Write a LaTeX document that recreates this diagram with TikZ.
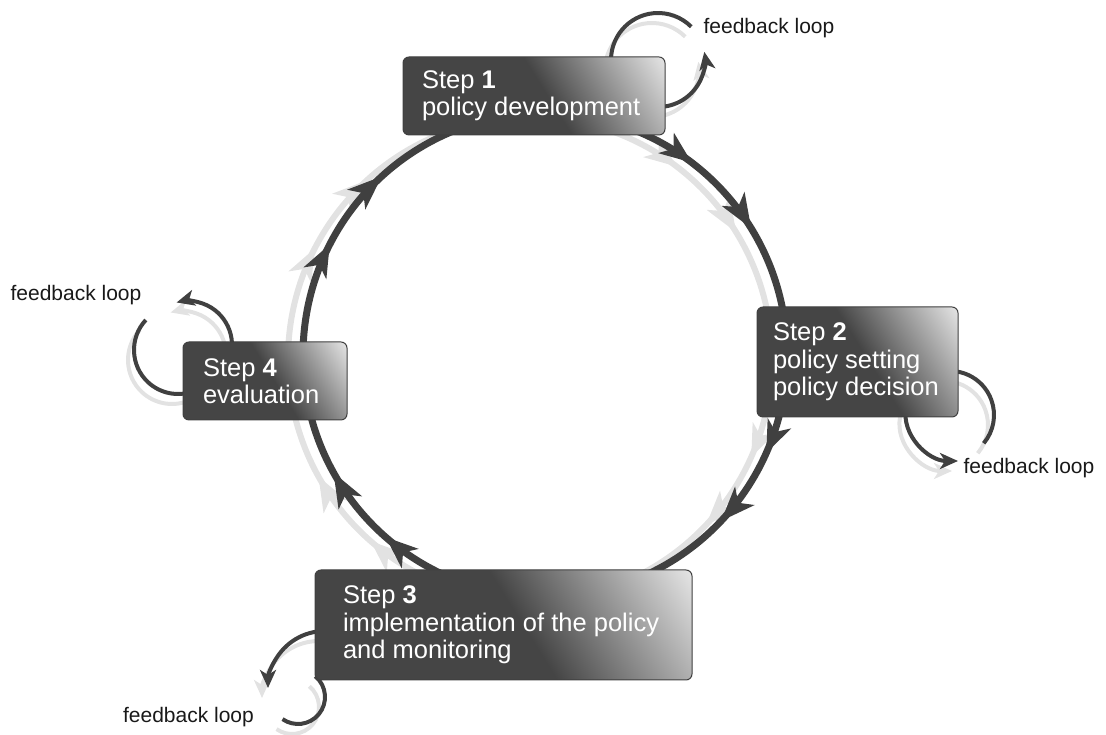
\documentclass[tikz,border=0pt]{standalone}
\usepackage{fontspec}
\setmainfont{Liberation Sans}
\usetikzlibrary{arrows.meta,calc,decorations.markings}
\definecolor{boxdark}{HTML}{454545}
\definecolor{boxlight}{HTML}{F2F2F2}
\definecolor{linegray}{HTML}{404040}
\definecolor{ghostgray}{HTML}{E2E2E2}
\pgfdeclarehorizontalshading{boxshade}{100bp}{color(0bp)=(boxdark); color(53bp)=(boxdark); color(87bp)=(boxlight); color(100bp)=(boxlight)}
\pgfdeclarelayer{back}
\pgfsetlayers{back,main}
\tikzstyle{block} = [draw=black!75, line width=1pt, rounded corners=6pt, shade, shading=boxshade, shading angle=32, text=white, align=left, inner ysep=0pt, font=\fontsize{25.5}{27.5}\selectfont, execute at begin node={\spaceskip=0.278em\relax}]
\tikzstyle{note} = [inner sep=0pt, text=black!90, font=\fontsize{21}{25}\selectfont]
\tikzset{ring/.style 2 args={line width=7pt, color=linegray, postaction={decorate}, decoration={markings, mark=at position #1 with {\arrow{Stealth[length=32pt,width=25pt,inset=9pt]}}, mark=at position #2 with {\arrow{Stealth[length=34pt,width=26pt,inset=9pt]}}}},
 ringghost/.style 2 args={ring={#1}{#2}, color=ghostgray, line width=6pt}}
\tikzstyle{fbarc} = [line width=4pt, color=linegray]
\tikzstyle{fbarrow} = [fbarc, -{Stealth[length=18pt,width=16pt,inset=5pt]}]
\tikzstyle{fbghost} = [line width=4pt, color=ghostgray]
\tikzstyle{fbghostarrow} = [fbghost, -{Stealth[length=18pt,width=16pt,inset=5pt]}]

\begin{document}
\begin{tikzpicture}[x=1pt, y=1pt]
 \useasboundingbox (0,0) rectangle (1106,735);
 % steps
    \node [block, text width=224pt, inner xsep=19pt, minimum height=78pt, name=step1] at (534,639) {Step \textbf{1}\\policy development};
    \node [block, text width=169pt, inner xsep=16pt, minimum height=110pt, name=step2] at (857.5,373) {Step \textbf{2}\\policy setting\\policy decision};
    \node [block, text width=321pt, inner xsep=28pt, minimum height=110pt, name=step3] at (503.5,110) {Step \textbf{3}\\implementation of the policy\\and monitoring};
    \node [block, text width=124pt, inner xsep=20pt, minimum height=78pt, name=step4] at (265,354) {Step \textbf{4}\\evaluation};
    % feedback labels
    \node [note, name=fb1] at (769,707) {feedback loop};
    \node [note, name=fb2] at (1029,267) {feedback loop};
    \node [note, name=fb3] at (188.5,18) {feedback loop};
    \node [note, name=fb4] at (76,440) {feedback loop};
    % centres of the arcs
    \coordinate (hub) at (545,380);
    \coordinate (c1) at (658,675);
    \coordinate (c2) at (950,320);
    \coordinate (c3a) at (325,47);
    \coordinate (c3b) at (298,38);
    \coordinate (c4a) at (188,390);
    \coordinate (c4b) at (178,385);

 \begin{pgfonlayer}{back}
    % light copies
    \begin{scope}[transform canvas={shift={(-15pt,-4pt)}}]
    \draw [ringghost={0.28}{0.62}] ($(hub)+(70:242pt)$) arc[start angle=70, end angle=8, radius=242pt];
    \draw [ringghost={0.22}{0.58}] ($(hub)+(-12:242pt)$) arc[start angle=-12, end angle=-66, radius=242pt];
    \draw [ringghost={0.33}{0.71}] ($(hub)+(246:242pt)$) arc[start angle=246, end angle=194, radius=242pt];
    \draw [ringghost={0.40}{0.70}] ($(hub)+(180:242pt)$) arc[start angle=180, end angle=112, radius=242pt];
    \end{scope}
    \begin{scope}[transform canvas={shift={(-6pt,-10pt)}}]
    \draw [fbghost] ($(c1)+(185:47pt)$) arc[start angle=185, end angle=45, radius=47pt];
    \draw [fbghostarrow] ($(c1)+(-85:47pt)$) arc[start angle=-85, end angle=10, radius=47pt];
    \draw [fbghost] ($(c2)+(110:44pt)$) arc[start angle=110, end angle=-40, radius=44pt];
    \draw [fbghostarrow] ($(c2)+(-44,8)$) to[out=-100, in=180] ($(c2)+(8,-46)$);
    \draw [fbghostarrow] ($(c3a)+(80:57pt)$) arc[start angle=80, end angle=180, radius=57pt];
    \draw [fbghost] ($(c3b)+(50:27pt)$) arc[start angle=50, end angle=-125, radius=27pt];
    \draw [fbghostarrow] ($(c4a)+(-20:44pt)$) arc[start angle=-20, end angle=105, radius=44pt];
    \draw [fbghost] ($(c4b)+(137:44pt)$) arc[start angle=137, end angle=290, radius=44pt];
    \end{scope}
    % cycle
    \draw [ring={0.28}{0.62}] ($(hub)+(70:242pt)$) arc[start angle=70, end angle=8, radius=242pt];
    \draw [ring={0.22}{0.58}] ($(hub)+(-12:242pt)$) arc[start angle=-12, end angle=-66, radius=242pt];
    \draw [ring={0.33}{0.71}] ($(hub)+(246:242pt)$) arc[start angle=246, end angle=194, radius=242pt];
    \draw [ring={0.40}{0.70}] ($(hub)+(180:242pt)$) arc[start angle=180, end angle=112, radius=242pt];
    % feedback loops
    \draw [fbarc] ($(c1)+(185:47pt)$) arc[start angle=185, end angle=45, radius=47pt];
    \draw [fbarrow] ($(c1)+(-85:47pt)$) arc[start angle=-85, end angle=10, radius=47pt];
    \draw [fbarc] ($(c2)+(110:44pt)$) arc[start angle=110, end angle=-40, radius=44pt];
    \draw [fbarrow] ($(c2)+(-44,8)$) to[out=-100, in=180] ($(c2)+(8,-46)$);
    \draw [fbarrow] ($(c3a)+(80:57pt)$) arc[start angle=80, end angle=180, radius=57pt];
    \draw [fbarc] ($(c3b)+(50:27pt)$) arc[start angle=50, end angle=-125, radius=27pt];
    \draw [fbarrow] ($(c4a)+(-20:44pt)$) arc[start angle=-20, end angle=105, radius=44pt];
    \draw [fbarc] ($(c4b)+(137:44pt)$) arc[start angle=137, end angle=290, radius=44pt];
 \end{pgfonlayer}

\end{tikzpicture}
\end{document}
